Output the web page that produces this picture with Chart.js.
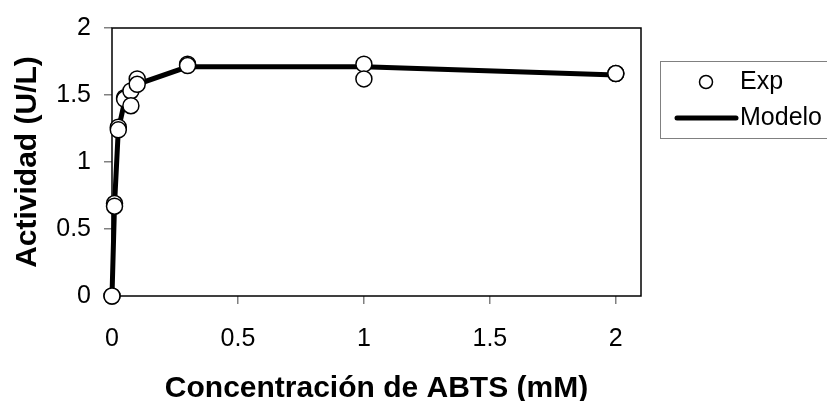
<!DOCTYPE html>
<html>
<head>
<meta charset="utf-8">
<script src="https://cdn.jsdelivr.net/npm/chart.js@4"></script>
<style>
  html, body { margin: 0; padding: 0; background: #fff; overflow: hidden; }
  #wrap { width: 827px; height: 401px; position: relative; }
</style>
</head>
<body>
<div id="wrap"><canvas id="c" width="827" height="401"></canvas></div>
<script>
// ABTS concentration (mM) and measured activity (U/L), duplicate runs
const expConc = [0, 0, 0.01, 0.01, 0.025, 0.025, 0.05, 0.05, 0.075, 0.075, 0.1, 0.1, 0.3, 0.3, 1, 1, 2, 2];
const expActividad = [0, 0, 0.69, 0.67, 1.26, 1.24, 1.48, 1.47, 1.53, 1.42, 1.62, 1.58, 1.73, 1.72, 1.73, 1.62, 1.66, 1.66];

// Fitted model curve
const modelConc = [0, 0.01, 0.025, 0.05, 0.075, 0.1, 0.3, 1, 2];
const modelActividad = [0, 0.68, 1.24, 1.45, 1.53, 1.58, 1.71, 1.71, 1.65];

const xTicks = [0, 0.5, 1, 1.5, 2];
const yTicks = [0, 0.5, 1, 1.5, 2];
const legendLabels = ['Exp', 'Modelo'];

const FONT = "'Liberation Sans', Arial, sans-serif";

const toPoints = (xs, ys) => xs.map((x, i) => ({ x: x, y: ys[i] }));

// Black frame around the plot area
const frame = {
  id: 'frame',
  beforeDatasetsDraw(chart) {
    const { ctx, chartArea: a } = chart;
    ctx.save();
    ctx.strokeStyle = '#000';
    ctx.lineWidth = 1.5;
    ctx.strokeRect(a.left, a.top, a.right - a.left, a.bottom - a.top);
    ctx.restore();
  }
};

// Boxed legend to the right of the plot
const boxLegend = {
  id: 'boxLegend',
  afterDraw(chart) {
    const { ctx } = chart;
    ctx.save();
    ctx.strokeStyle = '#808080';
    ctx.lineWidth = 1;
    ctx.strokeRect(660.5, 61.5, 180, 77);
    // Exp marker
    ctx.beginPath();
    ctx.arc(706, 82, 6.5, 0, Math.PI * 2);
    ctx.fillStyle = '#fff';
    ctx.fill();
    ctx.strokeStyle = '#000';
    ctx.lineWidth = 1.5;
    ctx.stroke();
    // Modelo line
    ctx.beginPath();
    ctx.moveTo(677, 118);
    ctx.lineTo(736, 118);
    ctx.lineWidth = 5;
    ctx.lineCap = 'round';
    ctx.stroke();
    ctx.fillStyle = '#000';
    ctx.font = '25px ' + FONT;
    ctx.textBaseline = 'middle';
    ctx.textAlign = 'left';
    ctx.fillText(legendLabels[0], 740, 82);
    ctx.fillText(legendLabels[1], 740, 118);
    ctx.restore();
  }
};

new Chart(document.getElementById('c'), {
  type: 'scatter',
  data: {
    datasets: [
      {
        label: legendLabels[0],
        data: toPoints(expConc, expActividad),
        showLine: false,
        clip: false,
        pointRadius: 8,
        pointBackgroundColor: '#fff',
        pointBorderColor: '#000',
        pointBorderWidth: 1.5,
        order: 0
      },
      {
        label: legendLabels[1],
        data: toPoints(modelConc, modelActividad),
        showLine: true,
        clip: false,
        borderColor: '#000',
        borderWidth: 5,
        pointRadius: 0,
        tension: 0,
        order: 1
      }
    ]
  },
  options: {
    responsive: false,
    animation: false,
    events: [],
    layout: { padding: { left: 0, top: 22, right: 186, bottom: 0 } },
    plugins: { legend: { display: false }, tooltip: { enabled: false } },
    scales: {
      x: {
        type: 'linear',
        min: 0,
        max: 2.1,
        afterBuildTicks(s) { s.ticks = xTicks.map(v => ({ value: v })); },
        afterFit(s) { s.height = 105; },
        border: { display: false },
        grid: { drawOnChartArea: false, drawTicks: true, tickLength: 8, tickColor: '#808080', lineWidth: 1.5 },
        ticks: { color: '#000', font: { family: FONT, size: 25 }, padding: 20, maxRotation: 0, callback: v => String(v) },
        title: { display: true, text: 'Concentración de ABTS (mM)', color: '#000', font: { family: FONT, size: 30, weight: 'bold', lineHeight: 1 }, padding: { top: 0, bottom: -3 } }
      },
      y: {
        type: 'linear',
        min: 0,
        max: 2,
        afterBuildTicks(s) { s.ticks = yTicks.map(v => ({ value: v })); },
        afterFit(s) { s.width = 112; },
        border: { display: false },
        grid: { drawOnChartArea: false, drawTicks: true, tickLength: 8, tickColor: '#808080', lineWidth: 1.5 },
        ticks: { color: '#000', font: { family: FONT, size: 25 }, padding: 13, callback: v => String(v) },
        title: { display: true, text: 'Actividad (U/L)', color: '#000', font: { family: FONT, size: 30, weight: 'bold', lineHeight: 1 }, padding: { top: 13, bottom: 0 } }
      }
    }
  },
  plugins: [frame, boxLegend]
});
</script>
</body>
</html>
